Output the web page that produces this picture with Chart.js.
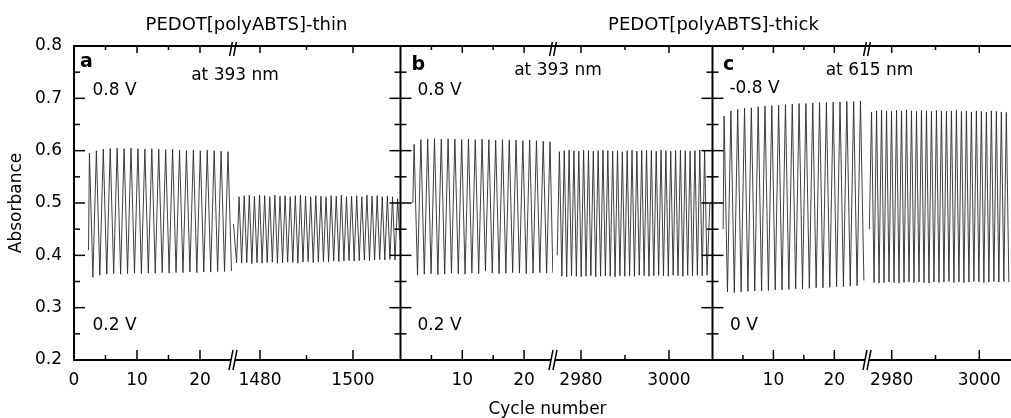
<!DOCTYPE html>
<html lang="en">
<head>
<meta charset="UTF-8">
<title>PEDOT[polyABTS] absorbance vs cycle number</title>
<script src="https://cdn.jsdelivr.net/npm/chart.js"></script>
<style>
  * { margin: 0; padding: 0; box-sizing: border-box; }
  body { background: #fff; width: 1011px; height: 418px; overflow: hidden; }
  canvas { display: block; }
</style>
</head>
<body>
<canvas id="chart" width="1011" height="418"></canvas>
<script>
// y axis ticks
const absMajor = [0.2, 0.3, 0.4, 0.5, 0.6, 0.7, 0.8];
const absMinor = [0.25, 0.35, 0.45, 0.55, 0.65, 0.75];

// x axis ticks, per broken segment
const aLeftMajor = [0, 10, 20];
const aLeftMinor = [5, 15];
const aRightMajor = [1480, 1500];
const aRightMinor = [1490];
const bLeftMajor = [10, 20];
const bLeftMinor = [5, 15];
const bRightMajor = [2980, 3000];
const bRightMinor = [2990];
const cLeftMajor = [10, 20];
const cLeftMinor = [5, 15];
const cRightMajor = [2980, 3000];
const cRightMinor = [2990];

// panel a: thin film, 393 nm (turning points of the trace)
const aLeftCycle = [2.3,
  2.45, 3.0, 3.55, 4.1, 4.65, 5.2, 5.75, 6.3, 6.85, 7.4,
  7.95, 8.5, 9.05, 9.6, 10.15, 10.7, 11.25, 11.8, 12.35, 12.9,
  13.45, 14.0, 14.55, 15.1, 15.65, 16.2, 16.75, 17.3, 17.85, 18.4,
  18.95, 19.5, 20.05, 20.6, 21.15, 21.7, 22.25, 22.8, 23.35, 23.9,
  24.45, 25.0];
const aLeftAbs = [0.41,
  0.595, 0.358, 0.600, 0.362, 0.603, 0.364, 0.604, 0.365, 0.605, 0.364,
  0.604, 0.365, 0.605, 0.366, 0.604, 0.365, 0.603, 0.366, 0.604, 0.366,
  0.603, 0.367, 0.602, 0.366, 0.603, 0.367, 0.601, 0.367, 0.600, 0.368,
  0.601, 0.367, 0.600, 0.368, 0.601, 0.368, 0.600, 0.369, 0.599, 0.369,
  0.598, 0.370];
const aRightCycle = [1474.3, 1474.95,
  1475.5, 1476.05, 1476.6, 1477.15, 1477.7, 1478.25, 1478.8, 1479.35, 1479.9, 1480.45,
  1481.0, 1481.55, 1482.1, 1482.65, 1483.2, 1483.75, 1484.3, 1484.85, 1485.4, 1485.95,
  1486.5, 1487.05, 1487.6, 1488.15, 1488.7, 1489.25, 1489.8, 1490.35, 1490.9, 1491.45,
  1492.0, 1492.55, 1493.1, 1493.65, 1494.2, 1494.75, 1495.3, 1495.85, 1496.4, 1496.95,
  1497.5, 1498.05, 1498.6, 1499.15, 1499.7, 1500.25, 1500.8, 1501.35, 1501.9, 1502.45,
  1503.0, 1503.55, 1504.1, 1504.65, 1505.2, 1505.75, 1506.3, 1506.85, 1507.4, 1507.95,
  1508.5, 1509.05, 1509.6,
  1510.1];
const aRightAbs = [0.46, 0.386,
  0.512, 0.385, 0.514, 0.386, 0.515, 0.384, 0.513, 0.386, 0.515, 0.385,
  0.514, 0.386, 0.512, 0.387, 0.515, 0.385, 0.513, 0.386, 0.514, 0.387,
  0.512, 0.386, 0.514, 0.385, 0.515, 0.387, 0.513, 0.388, 0.512, 0.386,
  0.514, 0.387, 0.513, 0.388, 0.512, 0.387, 0.514, 0.389, 0.513, 0.388,
  0.515, 0.389, 0.512, 0.390, 0.513, 0.389, 0.514, 0.390, 0.512, 0.391,
  0.515, 0.390, 0.513, 0.391, 0.514, 0.392, 0.512, 0.391, 0.513, 0.392,
  0.512, 0.391, 0.508,
  0.43];

// panel b: thick film, 393 nm
const bLeftCycle = [2.0,
  2.2, 2.75, 3.3, 3.85, 4.4, 4.95, 5.5, 6.05, 6.6, 7.15,
  7.7, 8.25, 8.8, 9.35, 9.9, 10.45, 11.0, 11.55, 12.1, 12.65,
  13.2, 13.75, 14.3, 14.85, 15.4, 15.95, 16.5, 17.05, 17.6, 18.15,
  18.7, 19.25, 19.8, 20.35, 20.9, 21.45, 22.0, 22.55, 23.1, 23.65,
  24.2, 24.65];
const bLeftAbs = [0.50,
  0.612, 0.362, 0.621, 0.364, 0.622, 0.365, 0.623, 0.363, 0.622, 0.364,
  0.623, 0.366, 0.622, 0.365, 0.621, 0.364, 0.622, 0.366, 0.621, 0.365,
  0.622, 0.370, 0.621, 0.366, 0.620, 0.365, 0.621, 0.366, 0.620, 0.367,
  0.620, 0.366, 0.619, 0.365, 0.620, 0.366, 0.619, 0.367, 0.618, 0.366,
  0.617, 0.367];
const bRightCycle = [2974.6,
  2975.1, 2975.65, 2976.2, 2976.75, 2977.3, 2977.85, 2978.4, 2978.95, 2979.5, 2980.05,
  2980.6, 2981.15, 2981.7, 2982.25, 2982.8, 2983.35, 2983.9, 2984.45, 2985.0, 2985.55,
  2986.1, 2986.65, 2987.2, 2987.75, 2988.3, 2988.85, 2989.4, 2989.95, 2990.5, 2991.05,
  2991.6, 2992.15, 2992.7, 2993.25, 2993.8, 2994.35, 2994.9, 2995.45, 2996.0, 2996.55,
  2997.1, 2997.65, 2998.2, 2998.75, 2999.3, 2999.85, 3000.4, 3000.95, 3001.5, 3002.05,
  3002.6, 3003.15, 3003.7, 3004.25, 3004.8, 3005.35, 3005.9, 3006.45, 3007.0, 3007.55,
  3008.1, 3008.65,
  3009.3];
const bRightAbs = [0.40,
  0.598, 0.360, 0.600, 0.359, 0.601, 0.361, 0.600, 0.360, 0.599, 0.359,
  0.601, 0.360, 0.600, 0.361, 0.599, 0.359, 0.600, 0.360, 0.601, 0.361,
  0.600, 0.360, 0.599, 0.359, 0.600, 0.361, 0.598, 0.360, 0.600, 0.361,
  0.601, 0.360, 0.599, 0.362, 0.600, 0.361, 0.601, 0.360, 0.600, 0.361,
  0.599, 0.362, 0.601, 0.361, 0.600, 0.360, 0.599, 0.362, 0.600, 0.361,
  0.601, 0.360, 0.600, 0.362, 0.599, 0.361, 0.600, 0.362, 0.601, 0.361,
  0.600, 0.362,
  0.50];

// panel c: thick film, 615 nm
const cLeftCycle = [1.75,
  1.9, 2.46, 3.02, 3.58, 4.14, 4.7, 5.26, 5.82, 6.38, 6.94,
  7.5, 8.06, 8.62, 9.18, 9.74, 10.3, 10.86, 11.42, 11.98, 12.54,
  13.1, 13.66, 14.22, 14.78, 15.34, 15.9, 16.46, 17.02, 17.58, 18.14,
  18.7, 19.26, 19.82, 20.38, 20.94, 21.5, 22.06, 22.62, 23.18, 23.74,
  24.3, 24.86];
const cLeftAbs = [0.45,
  0.666, 0.330, 0.676, 0.329, 0.679, 0.330, 0.681, 0.331, 0.682, 0.332,
  0.684, 0.332, 0.685, 0.333, 0.686, 0.334, 0.687, 0.334, 0.688, 0.335,
  0.689, 0.336, 0.690, 0.336, 0.690, 0.337, 0.691, 0.338, 0.692, 0.338,
  0.692, 0.339, 0.693, 0.340, 0.693, 0.340, 0.694, 0.341, 0.694, 0.342,
  0.695, 0.352];
const cRightCycle = [2974.9,
  2975.4, 2975.97, 2976.54, 2977.11, 2977.68, 2978.25, 2978.82, 2979.39, 2979.96, 2980.53,
  2981.1, 2981.67, 2982.24, 2982.81, 2983.38, 2983.95, 2984.52, 2985.09, 2985.66, 2986.23,
  2986.8, 2987.37, 2987.94, 2988.51, 2989.08, 2989.65, 2990.22, 2990.79, 2991.36, 2991.93,
  2992.5, 2993.07, 2993.64, 2994.21, 2994.78, 2995.35, 2995.92, 2996.49, 2997.06, 2997.63,
  2998.2, 2998.77, 2999.34, 2999.91, 3000.48, 3001.05, 3001.62, 3002.19, 3002.76, 3003.33,
  3003.9, 3004.47, 3005.04, 3005.61, 3006.18, 3006.75];
const cRightAbs = [0.45,
  0.674, 0.348, 0.676, 0.347, 0.677, 0.348, 0.676, 0.349, 0.675, 0.348,
  0.677, 0.347, 0.676, 0.348, 0.678, 0.349, 0.676, 0.348, 0.675, 0.349,
  0.677, 0.348, 0.676, 0.347, 0.675, 0.349, 0.677, 0.348, 0.676, 0.349,
  0.675, 0.350, 0.676, 0.348, 0.677, 0.349, 0.675, 0.348, 0.676, 0.349,
  0.674, 0.350, 0.676, 0.349, 0.675, 0.348, 0.674, 0.349, 0.676, 0.350,
  0.675, 0.349, 0.674, 0.350, 0.673, 0.349];

const FONT = '"DejaVu Sans", sans-serif';
Chart.defaults.font.family = FONT;
Chart.defaults.color = '#000';

const segments = [
  { id: 'aL', cyc: aLeftCycle, abs: aLeftAbs, major: aLeftMajor, minor: aLeftMinor, min: 0, max: 25.24, w: 159 },
  { id: 'aR', cyc: aRightCycle, abs: aRightAbs, major: aRightMajor, minor: aRightMinor, min: 1474.19, max: 1510.22, w: 167.5 },
  { id: 'bL', cyc: bLeftCycle, abs: bLeftAbs, major: bLeftMajor, minor: bLeftMinor, min: 0, max: 24.68, w: 152.5 },
  { id: 'bR', cyc: bRightCycle, abs: bRightAbs, major: bRightMajor, minor: bRightMinor, min: 2973.64, max: 3009.89, w: 159.5 },
  { id: 'cL', cyc: cLeftCycle, abs: cLeftAbs, major: cLeftMajor, minor: cLeftMinor, min: 0, max: 25.37, w: 154.5 },
  { id: 'cR', cyc: cRightCycle, abs: cRightAbs, major: cRightMajor, minor: cRightMinor, min: 2974.36, max: 3007.24, w: 144 }
];

const scales = {
  y: {
    type: 'linear', position: 'left', min: 0.2, max: 0.8,
    grid: { display: false, drawTicks: false },
    border: { display: true, width: 2, color: '#000' },
    ticks: { padding: 12, font: { size: 17 }, callback: v => v.toFixed(1) },
    afterBuildTicks: s => { s.ticks = absMajor.map(v => ({ value: v })); },
    title: { display: true, text: 'Absorbance', font: { size: 17 }, padding: { top: 6, bottom: 0 } },
    afterFit: s => { s.width = 74; s.paddingTop = 0; s.paddingBottom = 0; }
  }
};
segments.forEach(seg => {
  scales[seg.id] = {
    type: 'linear', position: 'bottom', stack: 'cycle', stackWeight: seg.w,
    min: seg.min, max: seg.max,
    grid: { display: false, drawTicks: false },
    border: { display: true, width: 2, color: '#000' },
    ticks: { autoSkip: false, maxRotation: 0, padding: 10, font: { size: 17 }, callback: v => String(v) },
    afterBuildTicks: s => { s.ticks = seg.major.map(v => ({ value: v })); },
    afterFit: s => { s.height = 58; s.paddingLeft = 0; s.paddingRight = 0; }
  };
});

const datasets = segments.map(seg => ({
  data: seg.cyc.map((c, i) => ({ x: c, y: seg.abs[i] })),
  xAxisID: seg.id,
  yAxisID: 'y',
  borderColor: '#2a2a2a',
  borderWidth: 0.9,
  pointRadius: 0,
  tension: 0,
  fill: false
}));

// frame, inward ticks, axis breaks and annotations
const decorations = {
  id: 'decorations',
  afterDraw(chart) {
    const ctx = chart.ctx;
    const area = chart.chartArea;
    const sc = chart.scales;
    const yS = sc.y;
    const line = (x1, y1, x2, y2) => { ctx.beginPath(); ctx.moveTo(x1, y1); ctx.lineTo(x2, y2); ctx.stroke(); };
    ctx.save();
    ctx.strokeStyle = '#000';
    ctx.lineWidth = 2;
    line(area.left - 1, area.top, area.right, area.top);
    [sc.bL.left, sc.cL.left].forEach(x => line(x, area.top - 1, x, area.bottom + 1));

    ctx.lineWidth = 1.5;
    const edges = [[area.left, 1], [sc.bL.left, -1], [sc.bL.left, 1], [sc.cL.left, -1], [sc.cL.left, 1]];
    edges.forEach(([x, dir]) => {
      absMajor.forEach(v => { const p = yS.getPixelForValue(v); line(x, p, x + dir * 11, p); });
      absMinor.forEach(v => { const p = yS.getPixelForValue(v); line(x, p, x + dir * 6, p); });
    });
    segments.forEach(seg => {
      const s = sc[seg.id];
      seg.major.forEach(v => { const p = s.getPixelForValue(v); line(p, area.bottom, p, area.bottom - 10); line(p, area.top, p, area.top + 7); });
      seg.minor.forEach(v => { const p = s.getPixelForValue(v); line(p, area.bottom, p, area.bottom - 5); line(p, area.top, p, area.top + 4); });
    });

    // axis break marks
    const breakMark = (x, yc, h) => {
      ctx.fillStyle = '#fff';
      ctx.fillRect(x - 2, yc - 2, 4, 4);
      ctx.lineWidth = 1.5;
      line(x - 2 - h * 0.2, yc + h, x - 2 + h * 0.2, yc - h);
      line(x + 2 - h * 0.2, yc + h, x + 2 + h * 0.2, yc - h);
    };
    ['aR', 'bR', 'cR'].forEach(id => {
      breakMark(sc[id].left, area.bottom, 10);
      breakMark(sc[id].left, area.top + 3, 7);
    });

    ctx.fillStyle = '#000';
    ctx.textBaseline = 'alphabetic';
    const text = (str, x, y, size, align, weight) => {
      ctx.font = (weight || 'normal') + ' ' + size + 'px ' + FONT;
      ctx.textAlign = align || 'center';
      ctx.fillText(str, x, y);
    };
    text('PEDOT[polyABTS]-thin', 246.5, 30, 18);
    text('PEDOT[polyABTS]-thick', 713.5, 30, 18);
    text('a', 80, 67, 19, 'left', 'bold');
    text('b', 411.5, 70, 19, 'left', 'bold');
    text('c', 723, 70, 19, 'left', 'bold');
    text('at 393 nm', 235, 80, 17);
    text('at 393 nm', 558, 75, 17);
    text('at 615 nm', 869.5, 75, 17);
    text('0.8 V', 114.5, 95, 17);
    text('0.8 V', 439.5, 95, 17);
    text('-0.8 V', 754.5, 93, 17);
    text('0.2 V', 114.5, 330, 17);
    text('0.2 V', 439.5, 330, 17);
    text('0 V', 744, 330, 17);
    text('Cycle number', 547.5, 414, 17);
    ctx.restore();
  }
};

new Chart(document.getElementById('chart'), {
  type: 'line',
  data: { datasets },
  options: {
    responsive: false,
    animation: false,
    events: [],
    layout: { padding: { top: 46, right: 0, bottom: 0, left: 0 } },
    plugins: { legend: { display: false }, tooltip: { enabled: false } },
    scales
  },
  plugins: [decorations]
});
</script>
</body>
</html>
